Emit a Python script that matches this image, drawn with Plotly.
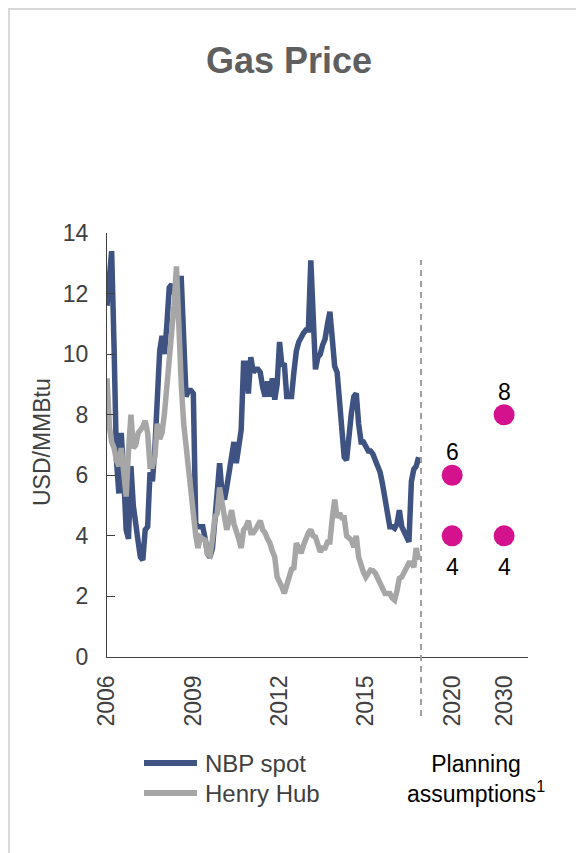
import pandas as pd
import plotly.graph_objects as go

# Monthly gas prices, USD/MMBtu, Jan 2006 - Nov 2016
nbp_spot = [
    11.6, 12.5, 13.4, 10.2, 6.5, 5.4, 7.4, 6.0, 4.2, 3.9, 6.3, 5.0,
    4.2, 3.8, 3.3, 3.2, 4.2, 4.3, 6.1, 5.8, 6.9, 8.5, 10.1, 10.6,
    10.0, 11.0, 12.2, 12.3, 12.0, 12.1, 12.5, 12.5, 10.7, 8.6, 8.8, 8.8,
    8.7, 4.4, 4.3, 4.3, 4.3, 3.9, 3.4, 3.3, 3.6, 4.5, 5.6, 6.4,
    5.4, 5.2, 5.6, 6.1, 6.8, 7.1, 6.4, 7.0, 7.5, 9.7, 9.7, 8.7,
    9.9, 9.4, 9.5, 9.5, 9.4, 8.9, 8.6, 9.1, 8.6, 9.2, 8.5, 9.0,
    10.4, 9.6, 9.7, 8.6, 8.6, 8.6, 9.4, 10.1, 10.4, 10.6, 10.7, 10.8,
    10.8, 13.1, 10.7, 9.5, 9.9, 10.0, 10.3, 10.5, 11.0, 11.4, 10.5, 9.6,
    9.4, 8.25, 7.3, 6.6, 6.5, 7.6, 8.05, 8.6, 8.7, 7.7, 7.1, 7.1,
    6.9, 6.8, 6.8, 6.7, 6.5, 6.3, 6.1, 5.7, 5.3, 4.8, 4.3, 4.3,
    4.25, 4.4, 4.85, 4.3, 4.1, 3.9, 3.8, 5.8, 6.2, 6.3, 6.6,
]
henry_hub = [
    9.2, 7.6, 7.1, 6.9, 6.5, 6.3, 6.9, 6.2, 5.3, 6.8, 8.0, 6.9,
    7.0, 7.4, 7.5, 7.6, 7.8, 7.4, 6.3, 6.3, 6.6, 7.7, 7.2, 7.4,
    8.05, 8.9, 9.8, 10.6, 11.6, 12.9, 10.5, 9.0, 7.7, 6.9, 6.4, 5.5,
    4.4, 4.0, 3.6, 3.96, 3.9, 3.86, 3.4, 3.35, 3.9, 4.6, 4.75, 5.6,
    5.1, 4.6, 4.2, 4.5, 4.85, 4.4, 4.2, 3.9, 3.6, 4.2, 4.3, 4.5,
    4.1, 4.1, 4.2, 4.4, 4.5, 4.2, 4.1, 3.9, 3.76, 3.5, 3.3, 2.64,
    2.5, 2.3, 2.1, 2.4, 2.77, 2.9, 2.94, 3.76, 3.6, 3.43, 3.7, 3.96,
    4.1, 4.2, 4.0, 3.96, 3.7, 3.47, 3.6, 3.6, 3.8, 3.8, 4.6, 5.2,
    4.6, 4.75, 4.6, 4.6, 4.0, 3.9, 3.86, 3.63, 4.0, 3.3, 2.97, 2.8,
    2.64, 2.8, 2.87, 2.85, 2.77, 2.6, 2.43, 2.3, 2.1, 2.1, 2.1, 1.95,
    1.88, 2.2, 2.6, 2.64, 2.8, 2.87, 3.1, 3.1, 2.97, 3.6, 3.2,
]
months = pd.date_range("2006-01-01", periods=len(nbp_spot), freq="MS")

year_ticks = ["2006-01-01", "2009-01-01", "2012-01-01", "2015-01-01"]
year_labels = ["2006", "2009", "2012", "2015"]

# Planning assumptions: high / low cases
plan_years = ["2020", "2030"]
plan_high = [6, 8]
plan_low = [4, 4]

FONT = "Liberation Sans, Arial, sans-serif"
NAVY = "#3E5381"
GREY = "#A6A6A6"
MAGENTA = "#D5128D"
AXIS = "#404040"
TICK_SIZE = 23

W, H = 576, 853
L, R, T, B = 107, 48, 233, 196
PW, PH = W - L - R, H - T - B


def px(x):
    return (x - L) / PW


def py(y):
    return (H - B - y) / PH


fig = go.Figure()
fig.add_trace(go.Scatter(
    x=months, y=nbp_spot, name="NBP spot", mode="lines",
    line=dict(color=NAVY, width=5.5), xaxis="x", yaxis="y",
    showlegend=False,
))
fig.add_trace(go.Scatter(
    x=months, y=henry_hub, name="Henry Hub", mode="lines",
    line=dict(color=GREY, width=5.5), xaxis="x", yaxis="y",
    showlegend=False,
))
fig.add_trace(go.Scatter(
    x=plan_years, y=plan_high, mode="markers",
    marker=dict(color=MAGENTA, size=21), showlegend=False,
    xaxis="x2", yaxis="y",
))
fig.add_trace(go.Scatter(
    x=plan_years, y=plan_low, mode="markers",
    marker=dict(color=MAGENTA, size=21), showlegend=False,
    xaxis="x2", yaxis="y",
))

# value labels for the planning cases (category axis positions by index)
for i, v in enumerate(plan_high):
    fig.add_annotation(
        x=i, y=v, xref="x2", yref="y", text=str(v), showarrow=False,
        yshift=23, font=dict(size=TICK_SIZE, color="#000000", family=FONT),
    )
for i, v in enumerate(plan_low):
    fig.add_annotation(
        x=i, y=v, xref="x2", yref="y", text=str(v), showarrow=False,
        yshift=-31, font=dict(size=TICK_SIZE, color="#000000", family=FONT),
    )

split = px(421)

fig.update_layout(
    width=W, height=H,
    margin=dict(l=L, r=R, t=T, b=B),
    paper_bgcolor="white", plot_bgcolor="white",
    font=dict(family=FONT, size=TICK_SIZE, color=AXIS),
    showlegend=False,
    xaxis=dict(
        domain=[0, split], type="date",
        range=["2006-01-01", "2016-12-01"],
        tickvals=year_ticks, ticktext=year_labels, tickangle=-90,
        showgrid=False, zeroline=False,
        showline=True, linecolor=AXIS, linewidth=1.3,
        ticks="outside", ticklen=8, tickcolor="rgba(0,0,0,0)",
        tickfont=dict(size=TICK_SIZE, color=AXIS),
    ),
    xaxis2=dict(
        domain=[split, 1], type="category",
        range=[-0.6, 1.46], anchor="y",
        tickangle=-90, showgrid=False, zeroline=False,
        showline=True, linecolor=AXIS, linewidth=1.3,
        ticks="outside", ticklen=8, tickcolor="rgba(0,0,0,0)",
        tickfont=dict(size=TICK_SIZE, color=AXIS),
    ),
    yaxis=dict(
        range=[0, 14], tickvals=list(range(0, 15, 2)),
        showgrid=False, zeroline=False,
        showline=True, linecolor=AXIS, linewidth=1.3,
        ticks="inside", ticklen=8, tickcolor=AXIS, tickwidth=1.3,
        ticklabelstandoff=13,
        tickfont=dict(size=TICK_SIZE, color=AXIS),
    ),
)

# legend, drawn as line swatches with labels
legend_items = [("NBP spot", NAVY, 763), ("Henry Hub", GREY, 793)]
for label, color, ypix in legend_items:
    fig.add_shape(
        type="line", xref="paper", yref="paper",
        x0=px(144), x1=px(197), y0=py(ypix), y1=py(ypix),
        line=dict(color=color, width=6),
    )
    fig.add_annotation(
        text=label, x=px(203), y=py(ypix), xref="paper", yref="paper",
        showarrow=False, xanchor="left", yanchor="middle",
        font=dict(size=24, color=AXIS, family=FONT),
    )

fig.add_annotation(
    text="<b>Gas Price</b>", x=px(289), y=py(60), xref="paper", yref="paper",
    showarrow=False, font=dict(size=36, color="#5F5F5F", family=FONT),
    xanchor="center", yanchor="middle",
)
fig.add_annotation(
    text="USD/MMBtu", x=px(42), y=py(442), xref="paper", yref="paper",
    textangle=-90, showarrow=False, font=dict(size=23, color=AXIS, family=FONT),
    xanchor="center", yanchor="middle",
)
fig.add_annotation(
    text="Planning<br>assumptions<sup>1</sup>", x=px(476), y=py(779),
    xref="paper", yref="paper", showarrow=False,
    font=dict(size=23, color="#000000", family=FONT),
    xanchor="center", yanchor="middle",
)

# separator between history and planning cases
fig.add_shape(
    type="line", xref="paper", yref="paper",
    x0=split, x1=split, y0=py(716), y1=py(260),
    line=dict(color="#A0A0A0", width=2, dash="6px,5px"),
)
# outer frame
fig.add_shape(
    type="rect", xref="paper", yref="paper",
    x0=px(9), x1=px(W + 20), y0=py(H + 20), y1=py(9),
    line=dict(color="#D9D9D9", width=2), fillcolor="rgba(0,0,0,0)",
    layer="below",
)

fig.write_html("out.html")
